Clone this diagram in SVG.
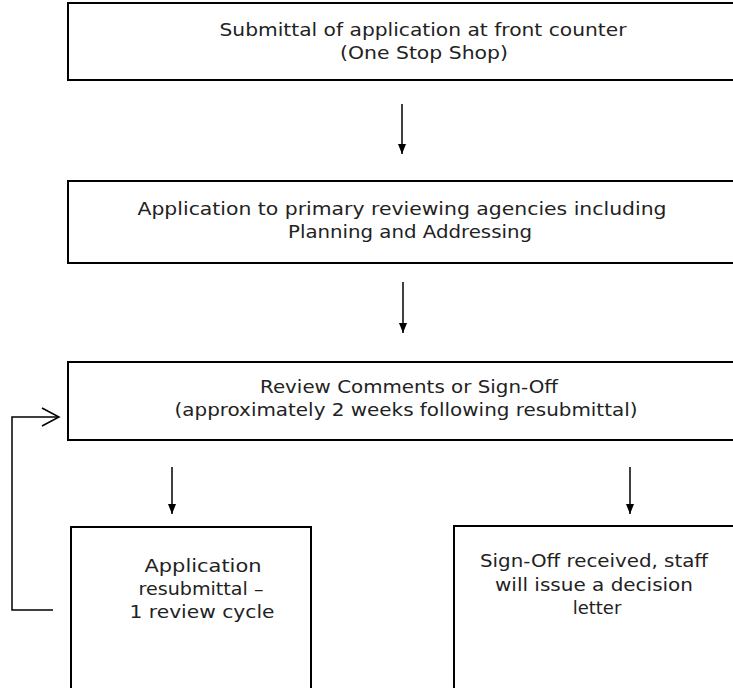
<svg xmlns="http://www.w3.org/2000/svg" width="733" height="688" viewBox="0 0 733 688">
<style>
.box{fill:#fff;stroke:#000;stroke-width:2}
.t{font-family:"DejaVu Sans","Liberation Sans",sans-serif;font-size:18px;fill:#222;text-anchor:middle}
.c{stroke:#000;stroke-width:1.5;fill:none}
</style>
<defs>
<marker id="ah" markerWidth="10" markerHeight="10" refX="10" refY="5" orient="auto" markerUnits="userSpaceOnUse" viewBox="0 0 10 10">
<path d="M0,1 L10,5 L0,9 Z" fill="#000"/>
</marker>
</defs>
<rect width="733" height="688" fill="#fff"/>
<g id="n1"><rect class="box" x="68" y="3" width="680" height="77"/>
<text class="t" x="423" y="36" textLength="407" lengthAdjust="spacingAndGlyphs">Submittal of application at front counter</text>
<text class="t" x="424" y="59" textLength="168" lengthAdjust="spacingAndGlyphs">(One Stop Shop)</text></g>
<g id="n2"><rect class="box" x="68" y="181" width="680" height="82"/>
<text class="t" x="402" y="215" textLength="529" lengthAdjust="spacingAndGlyphs">Application to primary reviewing agencies including</text>
<text class="t" x="410" y="238" textLength="244" lengthAdjust="spacingAndGlyphs">Planning and Addressing</text></g>
<g id="n3"><rect class="box" x="68" y="362" width="680" height="78"/>
<text class="t" x="409" y="393" textLength="298" lengthAdjust="spacingAndGlyphs">Review Comments or Sign-Off</text>
<text class="t" x="406" y="416" textLength="463" lengthAdjust="spacingAndGlyphs">(approximately 2 weeks following resubmittal)</text></g>
<g id="n4"><rect class="box" x="71" y="527" width="240" height="170"/>
<text class="t" x="203" y="572" textLength="117" lengthAdjust="spacingAndGlyphs">Application</text>
<text class="t" x="201" y="595" textLength="125" lengthAdjust="spacingAndGlyphs">resubmittal –</text>
<text class="t" x="202" y="618" textLength="145" lengthAdjust="spacingAndGlyphs">1 review cycle</text></g>
<g id="n5"><rect class="box" x="454" y="526" width="290" height="170"/>
<text class="t" x="594" y="567" textLength="228" lengthAdjust="spacingAndGlyphs">Sign-Off received, staff</text>
<text class="t" x="594" y="591" textLength="198" lengthAdjust="spacingAndGlyphs">will issue a decision</text>
<text class="t" x="597" y="614">letter</text></g>
<g id="connectors">
<line class="c" x1="402" y1="104" x2="402" y2="154" marker-end="url(#ah)"/>
<line class="c" x1="403" y1="282" x2="403" y2="333" marker-end="url(#ah)"/>
<line class="c" x1="172" y1="467" x2="172" y2="514" marker-end="url(#ah)"/>
<line class="c" x1="630" y1="467" x2="630" y2="514" marker-end="url(#ah)"/>
<path class="c" d="M53,610 H12 V417 H58"/>
<path class="c" d="M42,408 L59,417 L42,426"/>
</g>
</svg>
